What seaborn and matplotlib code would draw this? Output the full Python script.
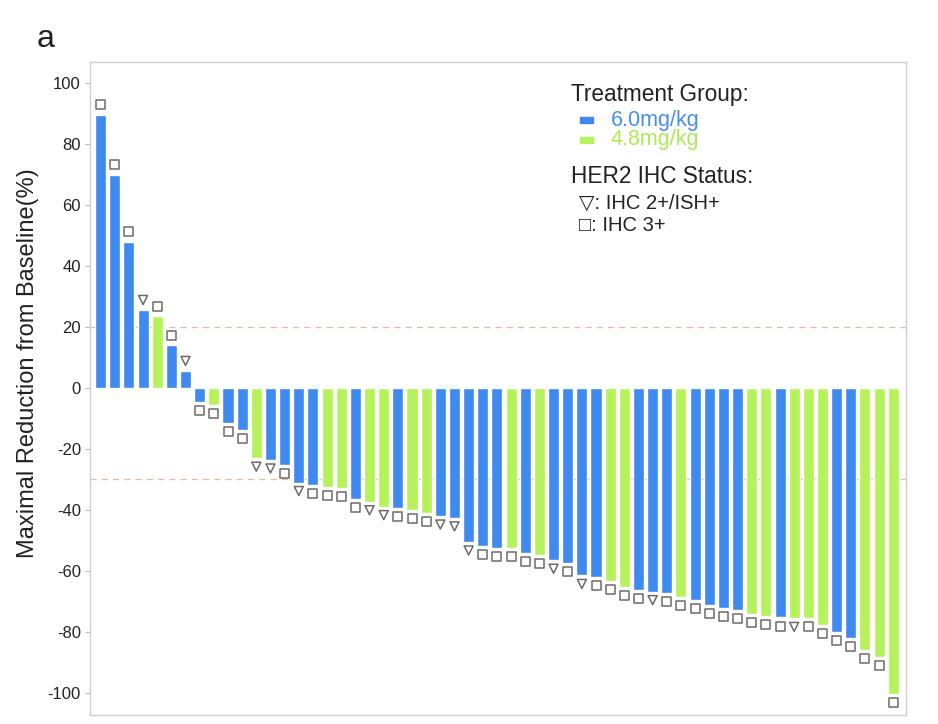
import numpy as np
import pandas as pd
import seaborn as sns
import matplotlib.pyplot as plt
from matplotlib.patches import Rectangle

# -------------- DATA -------------------#

values = [89.5, 70, 48, 25.5, 23.5, 14, 5.5,
          -4.5, -5.5, -11.5, -13.8, -23, -23.6, -25.3, -31, -31.9, -32.4, -32.7,
          -36.5, -37.3, -38.9, -39.5, -40, -40.9, -42, -42.6,
          -50.5, -51.9, -52.6, -52.6, -54.1, -54.9, -56.5, -57.4, -61.5, -62,
          -63.4, -65.2, -66.3, -66.8, -67.3,
          -68.7, -69.6, -71.3, -72.3, -72.9, -74.2, -74.9, -75.3, -75.6, -75.6,
          -77.8, -80.1, -82.1, -86, -88.4, -100.3]

# B = 6.0mg/kg, G = 4.8mg/kg
groups = list("BBBBGBB"
              "BGBBGBBBBGGBGGBGGBB"
              "BBBGBGBBBBGGBBB"
              "GBBBBGGBGGGBBGGG")

# T = IHC 2+/ISH+, S = IHC 3+
ihc = list("SSSTSST"
           "SSSSTTSTSSSSTTSSSTT"
           "TSSSSSTSTSSSSTS"
           "SSSSSSSSTSSSSSSS")

group_names = {"B": "6.0mg/kg", "G": "4.8mg/kg"}
ihc_names = {"T": "IHC 2+/ISH+", "S": "IHC 3+"}
ref_lines = [20, -30]

# -------------- STYLE -------------------#

blue = "#3F8AF0"
green = "#B6F25A"
palette = {"6.0mg/kg": blue, "4.8mg/kg": green}

sns.set_theme(style="white")
plt.rcParams["font.family"] = ["Liberation Sans", "DejaVu Sans"]
plt.rcParams["axes.unicode_minus"] = False

df = pd.DataFrame({
    "patient": np.arange(len(values)),
    "value": values,
    "group": [group_names[g] for g in groups],
    "ihc": [ihc_names[i] for i in ihc],
})
df["marker_y"] = df["value"] + np.where(df["value"] > 0, 3.4, -2.8)

fig = plt.figure(figsize=(9.38, 7.24), dpi=100)
ax = fig.add_axes([90 / 938, 9 / 724, 816 / 938, 653 / 724])

sns.barplot(data=df, x="patient", y="value", hue="group", palette=palette,
            dodge=False, width=0.78, saturation=1, legend=False, ax=ax)

sns.scatterplot(data=df, x="patient", y="marker_y", style="ihc",
                markers={"IHC 2+/ISH+": "v", "IHC 3+": "s"},
                color="white", edgecolor="#6b6b6b", linewidth=1.1, s=42,
                legend=False, ax=ax, zorder=3)

for r in ref_lines:
    ax.axhline(r, color="#F4B4A6", linestyle=(0, (5, 4)), linewidth=0.9, zorder=0)

ax.set_ylim(-107.3, 107)
ax.set_xlim(-0.75, len(values) - 0.1)
ax.set_yticks(np.arange(-100, 101, 20))
ax.set_xticks([])
ax.set_xlabel("")
ax.set_ylabel("Maximal Reduction from Baseline(%)", fontsize=17, color="#222222")
ax.yaxis.set_label_coords(-0.062, 0.539)
ax.tick_params(axis="y", labelsize=12, length=3.5, width=0.8, color="#bbbbbb",
               labelcolor="#222222", left=True, pad=3)
for sp in ax.spines.values():
    sp.set_color("#d0d0d0")
    sp.set_linewidth(1.0)

# -------------- LEGENDE -------------------#

t = ax.transAxes
ax.text(0.589, 0.9495, "Treatment Group:", transform=t, fontsize=16.3, va="center", color="#222222")
ax.add_patch(Rectangle((0.601, 0.9062), 0.015, 0.0096, transform=t, color=blue))
ax.text(0.638, 0.911, "6.0mg/kg", transform=t, fontsize=15.5, va="center", color="#4A90E6")
ax.add_patch(Rectangle((0.601, 0.8758), 0.015, 0.0096, transform=t, color=green))
ax.text(0.638, 0.8806, "4.8mg/kg", transform=t, fontsize=15.5, va="center", color="#AEEA55")
ax.text(0.589, 0.8254, "HER2 IHC Status:", transform=t, fontsize=16.3, va="center", color="#222222")
ax.text(0.599, 0.784, "\u25BD: IHC 2+/ISH+", transform=t, fontsize=14.5, va="center", color="#222222")
ax.text(0.599, 0.750, "\u25A1: IHC 3+", transform=t, fontsize=14.5, va="center", color="#222222")

fig.text(37 / 938, 1 - 47 / 724, "a", fontsize=23, va="baseline", color="#222222")

plt.savefig("out.png", dpi=100)
plt.close()
